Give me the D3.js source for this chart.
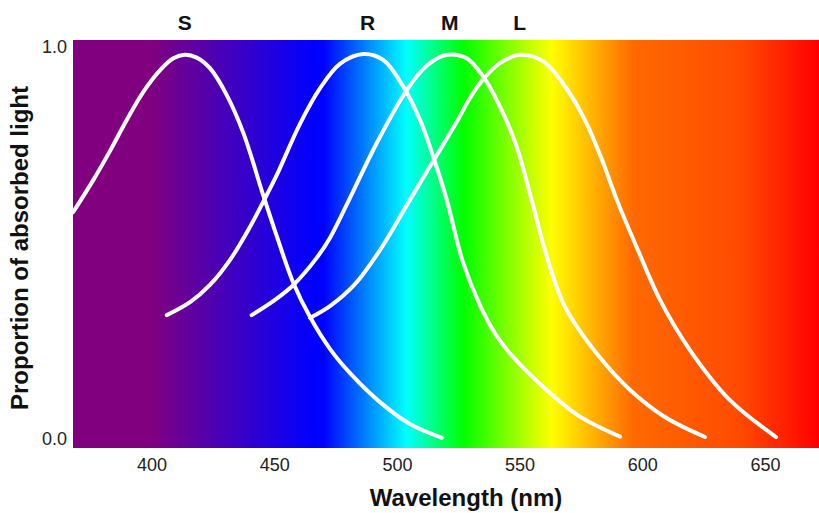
<!DOCTYPE html>
<html>
<head>
<meta charset="utf-8">
<script src="https://cdn.jsdelivr.net/npm/d3@7"></script>
<style>
  body { margin: 0; background: #fff; }
  svg { display: block; }
  text { font-family: "Liberation Sans", Arial, sans-serif; }
</style>
</head>
<body>
<svg id="chart" width="819" height="513"></svg>
<script>
// absorption curves, [wavelength nm, proportion]
const sCone = [[368.1, 0.579], [376.3, 0.661], [383.1, 0.735], [389.9, 0.814], [396.6, 0.885], [403.5, 0.941],
  [408.9, 0.971], [413.6, 0.980], [418.4, 0.973], [423.8, 0.946], [430.6, 0.878], [437.4, 0.781],
  [445.5, 0.622], [451.0, 0.518], [457.8, 0.398], [464.6, 0.311], [472.7, 0.230], [480.9, 0.168],
  [493.1, 0.094], [505.3, 0.038], [518.3, 0.003]];
const rods = [[406.2, 0.316], [415.7, 0.349], [423.8, 0.393], [432.0, 0.457], [440.1, 0.541], [445.5, 0.605],
  [451.0, 0.673], [460.5, 0.804], [468.7, 0.895], [476.8, 0.957], [486.3, 0.982], [494.4, 0.967],
  [502.6, 0.899], [509.4, 0.814], [514.8, 0.720], [520.3, 0.610], [527.0, 0.449], [533.8, 0.342],
  [540.4, 0.265], [547.4, 0.209], [561.0, 0.125], [574.6, 0.057], [590.9, 0.006]];
const mCone = [[440.8, 0.316], [450.3, 0.355], [457.8, 0.393], [467.3, 0.462], [472.7, 0.513], [479.5, 0.597],
  [491.8, 0.755], [504.0, 0.890], [512.1, 0.952], [520.3, 0.980], [528.4, 0.971], [535.2, 0.924],
  [542.0, 0.848], [548.8, 0.746], [554.9, 0.610], [561.7, 0.452], [568.5, 0.337], [581.9, 0.214],
  [595.0, 0.125], [609.2, 0.056], [625.5, 0.005]];
const lCone = [[464.6, 0.309], [472.7, 0.339], [482.9, 0.395], [493.1, 0.482], [505.3, 0.610], [514.8, 0.709],
  [524.4, 0.809], [529.8, 0.870], [535.2, 0.918], [542.0, 0.959], [550.2, 0.980], [559.5, 0.964],
  [568.9, 0.896], [576.8, 0.811], [583.2, 0.718], [589.6, 0.610], [598.2, 0.482], [607.2, 0.355],
  [619.4, 0.227], [635.7, 0.099], [654.5, 0.005]];

const curveNames = ['S', 'R', 'M', 'L'];
const curveLabelAt = [413.5, 488, 521.5, 550];

const xTicks = [400, 450, 500, 550, 600, 650];
const yTicks = [0, 1];

// spectrum behind the plot
const spectrumNm = [368, 400, 466, 470, 504, 527, 563, 596, 640, 672];
const spectrumColor = ['#800080', '#800080', '#0000ff', '#0000ff', '#00ffff', '#00ff00', '#ffff00', '#ff6a00', '#ff4a00', '#ff0000'];

const svg = d3.select('#chart');
const plotTop = 40, plotBottom = 448, plotLeft = 73, plotRight = 819;

const x = d3.scaleLinear().domain([368, 672]).range([plotLeft, plotRight]);
const y = d3.scaleLinear().domain([0, 1]).range([439, 47]);

const grad = svg.append('defs').append('linearGradient')
  .attr('id', 'spectrum')
  .attr('x1', 0).attr('x2', 1).attr('y1', 0).attr('y2', 0);
grad.selectAll('stop')
  .data(spectrumNm)
  .join('stop')
  .attr('offset', d => ((x(d) - plotLeft) / (plotRight - plotLeft) * 100) + '%')
  .attr('stop-color', (d, i) => spectrumColor[i]);

svg.append('rect')
  .attr('x', plotLeft)
  .attr('y', plotTop)
  .attr('width', plotRight - plotLeft)
  .attr('height', plotBottom - plotTop)
  .attr('fill', 'url(#spectrum)');

const line = d3.line()
  .x(d => x(d[0]))
  .y(d => y(d[1]))
  .curve(d3.curveCatmullRom.alpha(0.5));

svg.append('g')
  .selectAll('path')
  .data([sCone, rods, mCone, lCone])
  .join('path')
  .attr('d', line)
  .attr('fill', 'none')
  .attr('stroke', '#fff')
  .attr('stroke-width', 4)
  .attr('stroke-linecap', 'round');

// curve letters above the plot
svg.append('g')
  .selectAll('text')
  .data(curveNames)
  .join('text')
  .attr('x', (d, i) => x(curveLabelAt[i]))
  .attr('y', 30)
  .attr('text-anchor', 'middle')
  .attr('font-size', '21px')
  .attr('font-weight', 'bold')
  .attr('fill', '#111')
  .text(d => d);

// x axis, labels only
const xAxis = svg.append('g')
  .attr('transform', `translate(0,${plotBottom})`)
  .call(d3.axisBottom(x).tickValues(xTicks).tickSize(0).tickPadding(10).tickFormat(d3.format('d')));
xAxis.select('.domain').remove();
xAxis.selectAll('text')
  .attr('font-size', '18px')
  .attr('font-family', '"Liberation Sans", Arial, sans-serif')
  .attr('fill', '#222');

const yAxis = svg.append('g')
  .attr('transform', `translate(${plotLeft},0)`)
  .call(d3.axisLeft(y).tickValues(yTicks).tickSize(0).tickPadding(6).tickFormat(d3.format('.1f')));
yAxis.select('.domain').remove();
yAxis.selectAll('text')
  .attr('font-size', '18px')
  .attr('font-family', '"Liberation Sans", Arial, sans-serif')
  .attr('fill', '#222');

svg.append('text')
  .attr('x', 466)
  .attr('y', 506)
  .attr('text-anchor', 'middle')
  .attr('font-size', '24px')
  .attr('font-weight', 'bold')
  .attr('fill', '#111')
  .text('Wavelength (nm)');

svg.append('text')
  .attr('transform', 'translate(28,248) rotate(-90)')
  .attr('text-anchor', 'middle')
  .attr('font-size', '24px')
  .attr('font-weight', 'bold')
  .attr('fill', '#111')
  .text('Proportion of absorbed light');
</script>
</body>
</html>
